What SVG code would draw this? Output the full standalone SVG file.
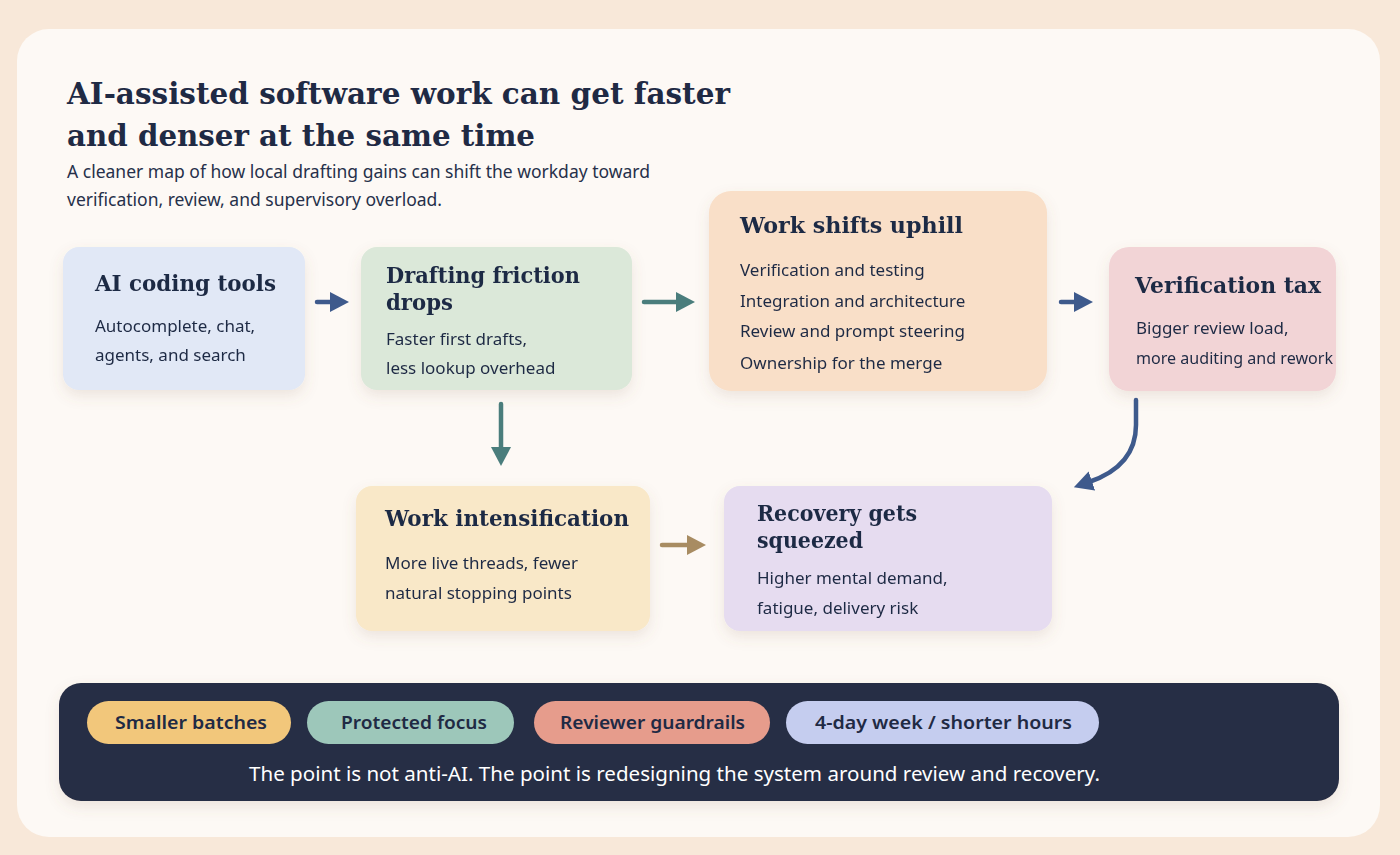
<svg xmlns="http://www.w3.org/2000/svg" width="1400" height="855" viewBox="0 0 1400 855">
<defs>
<filter id="sh" x="-20%" y="-20%" width="140%" height="150%">
<feDropShadow dx="0" dy="6" stdDeviation="7" flood-color="#8a6a50" flood-opacity="0.14"/>
</filter>
<marker id="hBlue" markerUnits="userSpaceOnUse" markerWidth="22" markerHeight="22" refX="3" refY="10" orient="auto"><path d="M0,0 L19,10 L0,20 z" fill="#3e5a8c"/></marker>
<marker id="hTeal" markerUnits="userSpaceOnUse" markerWidth="22" markerHeight="22" refX="3" refY="10" orient="auto"><path d="M0,0 L19,10 L0,20 z" fill="#4a7d7c"/></marker>
<marker id="hTan" markerUnits="userSpaceOnUse" markerWidth="22" markerHeight="22" refX="3" refY="10" orient="auto"><path d="M0,0 L19,10 L0,20 z" fill="#a88c62"/></marker>
<style>
.ttl{font-family:"DejaVu Serif","Liberation Serif",serif;font-weight:bold;font-size:29px;fill:#1f2a44}
.h{font-family:"DejaVu Serif","Liberation Serif",serif;font-weight:bold;font-size:23px;fill:#1f2a44}
.b{font-family:"Noto Sans","DejaVu Sans",sans-serif;font-size:17px;fill:#1f2a44}
.sub{font-family:"Noto Sans","DejaVu Sans",sans-serif;font-size:17.5px;fill:#26304a}
.pill{font-family:"Noto Sans","DejaVu Sans",sans-serif;font-size:18.5px;font-weight:600;fill:#1f2a44}
.foot{font-family:"Noto Sans","DejaVu Sans",sans-serif;font-size:20px;fill:#ffffff}
.card{filter:url(#sh)}
.ln{fill:none;stroke-width:4.5;stroke-linecap:round}
</style>
</defs>
<rect x="0" y="0" width="1400" height="855" fill="#f8e8d9"/>
<rect x="17" y="29" width="1363" height="808" rx="32" fill="#fdf9f5"/>
<g id="header">
<text class="ttl" x="67" y="104" textLength="663" lengthAdjust="spacingAndGlyphs">AI-assisted software work can get faster</text>
<text class="ttl" x="67" y="146" textLength="468" lengthAdjust="spacingAndGlyphs">and denser at the same time</text>
<text class="sub" x="67" y="178">A cleaner map of how local drafting gains can shift the workday toward</text>
<text class="sub" x="67" y="206">verification, review, and supervisory overload.</text>
</g>
<g id="n-tools" class="card">
<rect x="63" y="247" width="242" height="143" rx="16" fill="#e1e8f6"/>
<text class="h" x="95" y="291" textLength="181" lengthAdjust="spacingAndGlyphs">AI coding tools</text>
<text class="b" x="95" y="332">Autocomplete, chat,</text>
<text class="b" x="95" y="361">agents, and search</text>
</g>
<g id="n-drafting" class="card">
<rect x="361" y="247" width="271" height="143" rx="16" fill="#dbe8d9"/>
<text class="h" x="386" y="283" textLength="194" lengthAdjust="spacingAndGlyphs">Drafting friction</text>
<text class="h" x="386" y="310" textLength="67" lengthAdjust="spacingAndGlyphs">drops</text>
<text class="b" x="386" y="345">Faster first drafts,</text>
<text class="b" x="386" y="374">less lookup overhead</text>
</g>
<g id="n-uphill" class="card">
<rect x="709" y="191" width="338" height="200" rx="22" fill="#f9dfc8"/>
<text class="h" x="740" y="233" textLength="223" lengthAdjust="spacingAndGlyphs">Work shifts uphill</text>
<text class="b" x="740" y="276">Verification and testing</text>
<text class="b" x="740" y="307">Integration and architecture</text>
<text class="b" x="740" y="337">Review and prompt steering</text>
<text class="b" x="740" y="369">Ownership for the merge</text>
</g>
<g id="n-tax" class="card">
<rect x="1109" y="247" width="227" height="144" rx="20" fill="#f2d4d6"/>
<text class="h" x="1135" y="293" textLength="186" lengthAdjust="spacingAndGlyphs">Verification tax</text>
<text class="b" x="1136" y="334">Bigger review load,</text>
<text class="b" x="1136" y="364" textLength="197" lengthAdjust="spacingAndGlyphs">more auditing and rework</text>
</g>
<g id="n-intens" class="card">
<rect x="356" y="486" width="294" height="145" rx="16" fill="#f9e8c8"/>
<text class="h" x="385" y="526" textLength="244" lengthAdjust="spacingAndGlyphs">Work intensification</text>
<text class="b" x="385" y="569">More live threads, fewer</text>
<text class="b" x="385" y="599">natural stopping points</text>
</g>
<g id="n-recovery" class="card">
<rect x="724" y="486" width="328" height="145" rx="16" fill="#e6dcf0"/>
<text class="h" x="757" y="521" textLength="160" lengthAdjust="spacingAndGlyphs">Recovery gets</text>
<text class="h" x="757" y="548" textLength="106" lengthAdjust="spacingAndGlyphs">squeezed</text>
<text class="b" x="757" y="584">Higher mental demand,</text>
<text class="b" x="757" y="614">fatigue, delivery risk</text>
</g>
<g id="connectors">
<path class="ln" d="M317,302 L333,302" stroke="#3e5a8c" marker-end="url(#hBlue)"/>
<path class="ln" d="M644,302 L679,302" stroke="#4a7d7c" marker-end="url(#hTeal)"/>
<path class="ln" d="M1061,302 L1077,302" stroke="#3e5a8c" marker-end="url(#hBlue)"/>
<path class="ln" d="M501,404 L501,450" stroke="#4a7d7c" marker-end="url(#hTeal)"/>
<path class="ln" d="M1136,400 L1136,425 Q1136,466 1089,482" stroke="#3e5a8c" marker-end="url(#hBlue)"/>
<path class="ln" d="M662,545 L690,545" stroke="#a88c62" marker-end="url(#hTan)"/>
</g>
<g id="footer">
<rect x="59" y="683" width="1280" height="118" rx="22" fill="#262d44" filter="url(#sh)"/>
<g id="pill-batches"><rect x="87" y="701" width="204" height="43" rx="21.5" fill="#f2c77b"/><text class="pill" x="115" y="729" textLength="152" lengthAdjust="spacingAndGlyphs">Smaller batches</text></g>
<g id="pill-focus"><rect x="307" y="701" width="207" height="43" rx="21.5" fill="#9dc7ba"/><text class="pill" x="341" y="729" textLength="146" lengthAdjust="spacingAndGlyphs">Protected focus</text></g>
<g id="pill-guard"><rect x="534" y="701" width="236" height="43" rx="21.5" fill="#e69c8c"/><text class="pill" x="560" y="729" textLength="185" lengthAdjust="spacingAndGlyphs">Reviewer guardrails</text></g>
<g id="pill-week"><rect x="786" y="701" width="313" height="43" rx="21.5" fill="#c5cdef"/><text class="pill" x="815" y="729" textLength="257" lengthAdjust="spacingAndGlyphs">4-day week / shorter hours</text></g>
<text class="foot" x="249" y="781" textLength="851" lengthAdjust="spacingAndGlyphs">The point is not anti-AI. The point is redesigning the system around review and recovery.</text>
</g>
</svg>
